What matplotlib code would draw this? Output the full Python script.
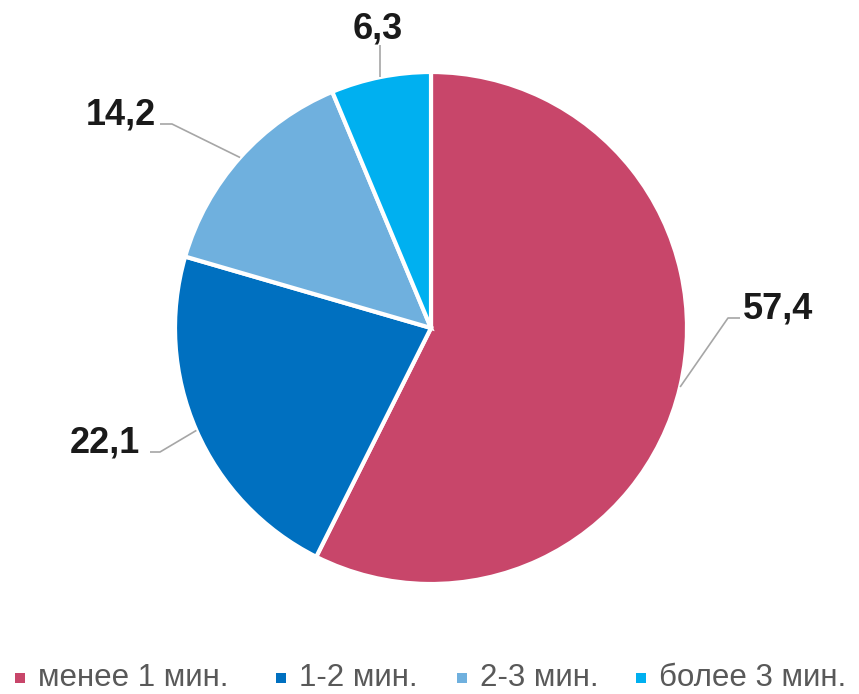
import matplotlib
matplotlib.use("Agg")
import matplotlib.pyplot as plt
import numpy as np

# data
categories = ["менее 1 мин.", "1-2 мин.", "2-3 мин.", "более 3 мин."]
values = [57.4, 22.1, 14.2, 6.3]
value_labels = ["57,4", "22,1", "14,2", "6,3"]
colors = ["#C8466A", "#0070C0", "#6FB0DE", "#00B0F0"]

# layout (pixel coords, y measured from top)
W, H = 859, 694
center_px = (431, 328)
radius = 256
# text edge and baseline, elbow and end of the leader line
label_text = [(743, 318, "left"), (140, 452, "right"), (156, 124, "right"), (378, 38, "center")]
label_elbow = [(728, 318), (160, 452), (172, 124), (380, 45)]
label_end = [(740, 318), (150, 452), (160, 124), (380, 45)]
legend_x = [20, 281, 462, 641]
legend_y = 678

label_font = ["Liberation Sans", "DejaVu Sans"]
legend_font = ["Liberation Sans Narrow", "Liberation Sans", "DejaVu Sans"]


def fy(py):
    return H - py


fig = plt.figure(figsize=(W / 100, H / 100), dpi=100)
ax = fig.add_axes([0, 0, 1, 1])
ax.axis("off")

cx, cy = center_px[0], fy(center_px[1])
wedges, _ = ax.pie(values, colors=colors, startangle=90, counterclock=False,
                   center=(cx, cy), radius=radius,
                   wedgeprops=dict(edgecolor="white", linewidth=3))
ax.set_xlim(0, W)
ax.set_ylim(0, H)
ax.set_aspect("equal")

for w, txt, (tx, ty, ha), (ex, ey), (sx, sy) in zip(wedges, value_labels, label_text,
                                                      label_elbow, label_end):
    mid = np.deg2rad((w.theta1 + w.theta2) / 2)
    px, py = cx + radius * np.cos(mid), cy + radius * np.sin(mid)
    if ex == sx:  # straight vertical leader
        px = ex
    ax.plot([px, ex, sx], [py, fy(ey), fy(sy)], color="#A6A6A6", lw=1.2,
            solid_capstyle="butt", zorder=1)
    ax.text(tx, fy(ty), txt, ha=ha, va="baseline", fontsize=26, fontweight="bold",
            color="#1A1A1A", family=label_font)

for x, name, c in zip(legend_x, categories, colors):
    ax.add_patch(plt.Rectangle((x - 5, fy(legend_y) - 5), 10, 10, color=c, lw=0))
    ax.text(x + 18, fy(legend_y), name, ha="left", va="center", fontsize=22.5,
            color="#595959", family=legend_font)

fig.savefig("out.png", dpi=100)
